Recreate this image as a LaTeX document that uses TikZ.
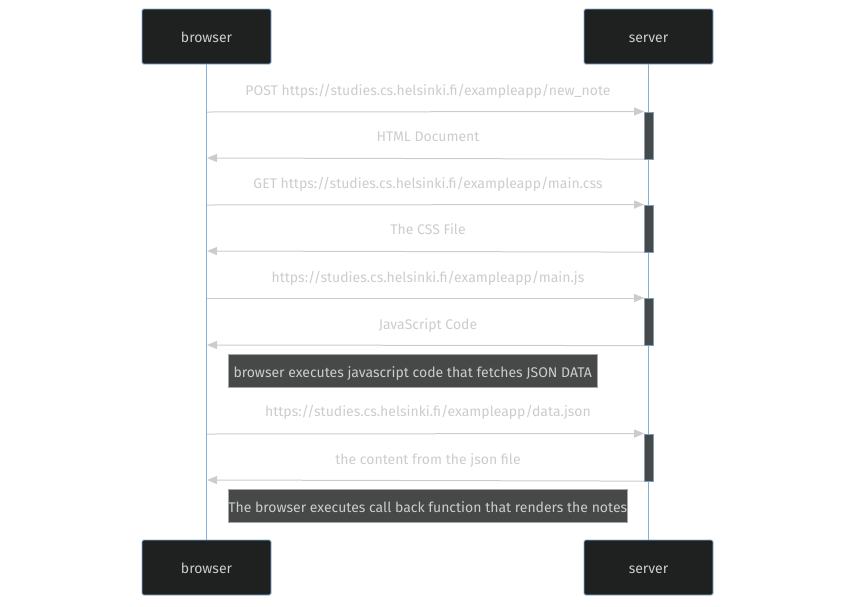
\documentclass[tikz,border=0pt]{standalone}
\usepackage{fontspec}
\setmainfont{Fira Sans}
\usetikzlibrary{arrows.meta}
\definecolor{actfill}{HTML}{1F2020}
\definecolor{actborder}{HTML}{81B1DB}
\definecolor{msgcol}{HTML}{CCCCCC}
\definecolor{msgtext}{HTML}{CCCCCC}
\definecolor{notefill}{HTML}{474949}
\definecolor{notetext}{HTML}{CCCCCC}
\definecolor{activefill}{HTML}{474949}
\tikzset{
  actor/.style={draw=actborder, fill=actfill, rounded corners=1.5pt, line width=0.8pt,
    minimum width=129pt, minimum height=55pt, inner sep=0pt, text=msgtext,
    text height=12.5pt, text depth=0.5pt, font=\fontsize{14}{16}\selectfont},
  lifeline/.style={draw=actborder, line width=1.3pt},
  msg/.style={draw=msgcol, line width=1pt, -{Triangle[length=10pt,width=8pt]}},
  msglabel/.style={text=msgtext, font=\fontsize{14}{16}\selectfont, inner sep=0pt,
    text height=10pt, text depth=3pt},
  activation/.style={draw=actborder!60!gray, fill=activefill, line width=0.6pt, minimum width=9pt, inner sep=0pt},
  notebox/.style={draw=gray!70, fill=notefill, text=notetext, inner sep=0pt, line width=0.5pt,
    minimum height=33pt, text height=12.5pt, text depth=0.5pt, font=\fontsize{14}{16}\selectfont, anchor=west},
}
\begin{document}
\begin{tikzpicture}[x=1pt,y=-1pt]
\useasboundingbox (0,0) rectangle (856,606);
% actors
\node[actor] (bt) at (206.5,36.5) {browser};
\node[actor] (st) at (648.5,36.5) {server};
\node[actor] (bb) at (206.5,567.5) {browser};
\node[actor] (sb) at (648.5,567.5) {server};
\draw[lifeline] (bt.south) -- (bb.north);
\draw[lifeline] (st.south) -- (sb.north);
% activations
\node[activation, minimum height=47pt, anchor=north] (a1) at (649,111.5) {};
\node[activation, minimum height=47pt, anchor=north] (a2) at (649,204.5) {};
\node[activation, minimum height=47pt, anchor=north] (a3) at (649,298) {};
\node[activation, minimum height=47pt, anchor=north] (a4) at (649,433.5) {};
% coordinates on browser lifeline
\coordinate (b1) at (207,112);
\coordinate (b2) at (207,158);
\coordinate (b3) at (207,205);
\coordinate (b4) at (207,251);
\coordinate (b5) at (207,298);
\coordinate (b6) at (207,345);
\coordinate (b7) at (207,434);
\coordinate (b8) at (207,480);
% messages
\draw[msg] (b1) -- (a1.north west);
\node[msglabel] (l1) at (428,92) {POST https://studies.cs.helsinki.fi/exampleapp/new\_note};
\draw[msg] (a1.south west) -- (b2);
\node[msglabel] (l2) at (428,138) {HTML Document};
\draw[msg] (b3) -- (a2.north west);
\node[msglabel] (l3) at (428,185) {GET https://studies.cs.helsinki.fi/exampleapp/main.css};
\draw[msg] (a2.south west) -- (b4);
\node[msglabel] (l4) at (428,231) {The CSS File};
\draw[msg] (b5) -- (a3.north west);
\node[msglabel] (l5) at (428,279) {https://studies.cs.helsinki.fi/exampleapp/main.js};
\draw[msg] (a3.south west) -- (b6);
\node[msglabel] (l6) at (428,326) {JavaScript Code};
\node[notebox, minimum width=369pt] (n1) at (228,371) {\makebox[369pt]{browser executes javascript code that fetches JSON DATA}};
\draw[msg] (b7) -- (a4.north west);
\node[msglabel] (l7) at (428,413) {https://studies.cs.helsinki.fi/exampleapp/data.json};
\draw[msg] (a4.south west) -- (b8);
\node[msglabel] (l8) at (428,461) {the content from the json file};
\node[notebox, minimum width=399pt] (n2) at (228,506) {\makebox[399pt]{The browser executes call back function that renders the notes}};
\end{tikzpicture}
\end{document}
